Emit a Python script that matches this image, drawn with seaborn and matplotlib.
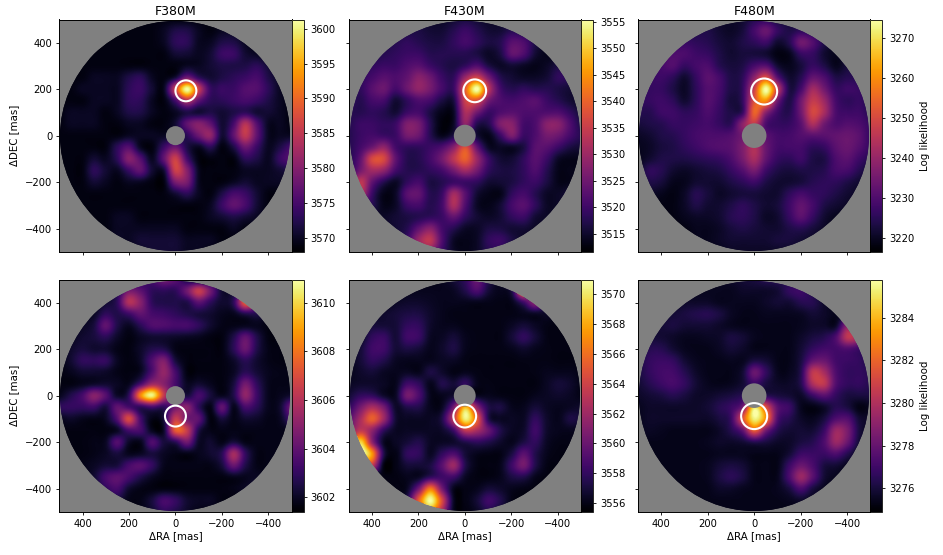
import numpy as np
import matplotlib
matplotlib.use("Agg")
import matplotlib.pyplot as plt
from matplotlib.patches import Circle
import seaborn as sns

sns.set_style("ticks", {"axes.edgecolor": "black", "text.color": "black", "xtick.color": "black",
                        "ytick.color": "black", "axes.labelcolor": "black", "axes.facecolor": "gray"})

# log likelihood above the bottom of each colorbar, 50 mas grid
# rows go DEC +500 -> -500, columns go RA +500 -> -500
F380M_TOP = [
    [1,1,1,1,1,1,1,1,1,1,1,1,1,1,1,1,1,1,1,1,1],
    [1,1,1,1,1,1,1,1,1,2,4,4,2,1,2,2,1,1,1,1,1],
    [1,1,1,1,1,1,1,1,1,2,5,5,2,2,4,4,2,1,1,1,1],
    [1,1,1,1,1,1,1,1,1,1,3,3,2,3,6,6,3,2,1,1,1],
    [1,1,1,1,1,1,1,1,1,1,1,2,2,3,4,4,4,5,3,1,1],
    [1,1,1,2,2,2,4,5,2,1,3,10,5,3,4,5,6,7,4,2,1],
    [1,1,2,2,2,2,5,6,3,2,18,33,18,6,6,6,8,8,5,2,1],
    [1,1,1,2,2,2,5,5,2,1,7,16,9,5,5,6,7,6,4,2,1],
    [1,2,2,2,1,2,4,4,2,1,2,4,3,4,3,4,5,3,3,2,1],
    [1,2,2,2,1,1,2,2,1,1,3,9,12,9,3,7,16,8,2,2,1],
    [1,1,1,1,1,1,2,2,2,2,3,5,10,13,3,9,17,9,2,2,2],
    [1,1,1,1,1,5,8,2,1,6,10,4,2,5,1,4,10,6,2,4,7],
    [1,1,1,3,2,5,12,8,2,9,18,7,1,1,1,1,5,4,2,6,8],
    [1,1,1,5,3,2,6,9,3,3,18,12,2,1,1,1,2,2,2,3,4],
    [1,1,1,3,2,1,2,2,1,1,11,11,2,1,1,2,3,2,2,2,1],
    [1,1,1,1,1,1,1,1,1,1,3,5,2,1,4,7,6,3,1,1,1],
    [1,1,1,1,1,1,1,1,1,1,1,1,1,2,6,9,7,3,1,1,1],
    [1,1,1,1,1,2,2,1,1,1,1,1,1,2,3,4,3,2,1,1,1],
    [1,1,1,1,1,2,2,2,2,2,2,1,1,1,1,2,1,1,1,1,1],
    [1,1,1,1,1,2,2,3,3,3,3,2,2,2,1,1,1,1,1,1,1],
    [1,1,1,1,1,1,1,2,3,3,3,2,2,1,1,1,1,1,1,1,1],
]
F430M_TOP = [
    [4,4,4,4,4,4,4,3,3,4,5,4,3,3,3,3,3,3,3,3,3],
    [4,4,4,4,5,5,5,4,4,6,8,6,4,4,6,5,3,3,3,3,3],
    [4,4,4,5,6,7,6,5,5,7,9,7,5,6,11,10,5,3,3,3,3],
    [5,5,5,6,7,8,8,6,6,6,6,5,3,5,12,10,4,2,2,3,3],
    [6,6,7,8,8,10,11,8,6,5,7,10,5,3,4,3,2,3,5,6,3],
    [7,7,9,11,10,12,16,13,8,7,18,24,14,6,4,3,3,4,7,6,3],
    [7,7,11,13,9,13,17,14,9,8,28,44,22,9,6,7,6,6,5,4,3],
    [7,6,9,9,4,7,10,9,5,5,24,26,14,10,9,10,11,8,6,4,3],
    [6,6,7,6,4,8,9,5,2,3,20,14,8,10,11,10,10,10,10,7,4],
    [6,8,8,7,8,15,14,6,1,3,17,6,6,15,16,9,10,16,16,10,5],
    [6,8,9,8,8,14,13,6,2,5,10,4,2,8,15,8,10,14,13,9,6],
    [6,9,13,17,9,7,7,8,10,16,26,12,3,3,3,5,11,11,8,5,4],
    [6,12,25,25,12,6,6,9,14,22,28,18,8,4,4,7,11,8,3,2,2],
    [6,14,19,17,9,6,6,7,9,14,19,14,7,5,5,7,10,6,2,2,2],
    [8,22,12,6,3,7,9,5,6,8,8,7,4,4,5,7,8,5,2,2,2],
    [8,20,8,2,3,11,12,6,8,19,11,4,2,2,7,9,6,3,3,4,3],
    [5,8,6,2,3,8,9,6,9,20,10,3,2,4,9,11,7,3,3,3,3],
    [3,3,3,3,4,5,6,7,8,12,7,4,3,4,7,8,4,3,3,3,3],
    [3,3,3,3,4,6,12,16,9,6,3,3,5,5,4,4,3,3,3,3,3],
    [3,3,3,3,4,8,18,22,10,3,2,3,7,8,5,3,3,3,3,3,3],
    [3,3,3,3,4,8,14,16,8,3,2,3,6,6,3,3,3,3,3,3,3],
]
F480M_TOP = [
    [5,5,5,5,5,5,5,4,4,5,8,9,6,5,5,6,5,4,4,4,4],
    [5,5,5,5,6,7,7,5,4,6,12,17,10,7,9,8,6,4,4,4,4],
    [6,6,7,9,10,9,8,6,5,7,9,11,5,8,18,14,7,4,4,4,4],
    [7,8,11,13,13,11,10,7,5,6,6,5,2,3,10,10,5,3,5,6,5],
    [8,9,12,14,10,12,13,8,6,7,12,14,5,3,6,10,7,3,6,7,6],
    [9,10,11,9,5,10,15,12,7,9,22,34,14,5,8,16,13,7,8,8,7],
    [9,10,10,7,4,9,14,12,7,10,32,58,30,7,12,25,18,10,11,10,7],
    [9,10,11,9,5,9,14,11,6,10,35,44,18,7,18,30,24,12,9,10,7],
    [8,8,11,11,9,10,13,10,7,10,38,22,11,8,18,33,26,13,11,11,8],
    [6,7,8,10,10,11,12,10,9,22,30,13,10,10,15,27,18,13,14,13,10],
    [4,5,7,8,10,12,13,13,14,18,18,15,12,12,14,15,15,16,17,15,10],
    [3,4,6,7,9,11,13,14,15,20,27,17,12,12,12,9,10,15,17,14,10],
    [3,5,7,7,7,8,9,10,13,19,26,16,10,9,11,7,7,13,15,11,8],
    [4,9,8,5,4,5,6,7,10,14,19,11,7,6,7,7,8,12,12,8,5],
    [4,7,6,3,3,5,5,5,7,9,11,7,5,5,6,8,9,9,7,5,4],
    [3,4,3,2,4,8,6,4,5,6,6,5,5,9,12,10,9,7,5,4,4],
    [3,2,2,2,4,7,5,5,7,9,7,5,6,11,16,12,7,5,4,4,4],
    [3,2,2,2,3,4,4,5,8,9,7,4,5,10,15,10,5,3,3,3,3],
    [3,2,2,2,2,3,3,4,6,7,6,5,5,7,8,6,4,3,3,3,3],
    [3,3,3,2,2,3,3,4,5,5,5,5,6,6,5,4,3,3,3,3,3],
    [3,3,3,3,3,3,3,3,4,4,4,4,4,4,4,3,3,3,3,3,3],
]
F380M_BOT = [
    [.3,.3,.3,.3,.3,.5,.8,1.2,2,3,2.5,1,.6,.5,.5,.5,.5,.5,.5,.5,.5],
    [.3,.3,.3,.3,.5,1.2,3,2.5,1.5,1.5,1.5,3,5,3,.8,.8,1.5,1,.5,.5,.5],
    [.3,.3,.3,.5,.8,1.5,4.5,3.5,1.5,1.2,1.2,1.2,2.5,1.5,.8,1.5,6,3,.5,.5,.5],
    [.3,.3,.5,.6,1.5,1.2,1.8,2.6,2,1.8,1.5,1.2,1,.8,.5,.5,1.2,1.2,.4,.3,.3],
    [.3,.4,.6,1,2.6,1.2,.6,1.4,2.2,2.2,2,2,1.5,.8,.4,.4,.5,.5,.3,.3,.3],
    [.3,.5,.8,1,1.4,.7,.3,.6,.8,.8,.7,.6,.5,.3,.3,1.2,2.6,1.2,.3,.3,.3],
    [.3,.7,1,.8,.8,.4,.3,.7,1.2,1.2,.4,.3,.3,.3,.3,1.4,2.8,1.2,.4,.3,.3],
    [.3,.8,1.5,1.5,1.6,.6,.3,.7,2.2,3.3,1,.3,.3,.3,.3,.7,1.4,.8,.4,.3,.3],
    [.3,.5,.8,.8,.7,.4,.3,.6,2.2,3.8,2,.3,.3,.3,.3,.6,1.4,.9,.5,.4,.4],
    [.3,.3,.5,.7,.8,.6,.5,2,4,3.5,2,.6,.8,.5,.3,1,3,1.5,.5,.4,.4],
    [.5,1.2,2,3.5,2.4,.7,1.5,7,9.2,5,2,1,2,1,.5,1.2,3.7,1.8,.5,.5,.8],
    [1.5,1.6,1.6,1.8,1,2.6,2,1.5,2,1.5,3,3.5,1.5,.4,2.6,.5,2,1.4,.5,.8,3],
    [.5,.7,.5,.4,.6,2.3,5.5,2,.4,1,5,3,2.5,.3,1,.4,.8,.7,.4,.6,2],
    [.3,.3,.3,.3,.3,.6,2,2,.5,.7,6,5,1.2,.4,.4,.4,.4,.4,.4,.4,.4],
    [.3,.3,.3,.4,.6,2.3,.7,.5,2.2,1,1.4,3,.7,.8,.4,1,.4,.4,.4,.4,.4],
    [.3,.3,.3,.4,.6,1,.5,.6,1,.6,.4,.4,.5,.8,1.4,4.2,1.6,.4,.4,.4,.4],
    [.3,.3,.4,.6,.9,1,2,2.4,1.6,.5,.4,.4,.4,.4,1,2.8,1.2,.4,.4,.4,.4],
    [.3,.3,.4,.8,2,2.5,2,1.2,.6,.3,.3,.3,.3,.3,.3,.5,.5,.6,.4,.3,.3],
    [.3,.3,.3,.6,1.5,2,.8,.4,.3,.3,.3,.3,.3,.3,.3,.4,.6,.8,.4,.3,.3],
    [.3,.3,.3,.3,.6,1,.4,.4,1,2,1.6,.8,.6,.6,.3,.3,.3,.3,.3,.3,.3],
    [.3,.3,.3,.3,.4,.4,.3,.4,.8,1.5,1.2,.7,.4,.3,.3,.3,.3,.3,.3,.3,.3],
]
F430M_BOT = [
    [.5,.5,.5,.5,.5,.5,.5,.5,.8,1.5,2.5,4.5,2,.8,2,4,.5,.5,.5,.5,.5],
    [.5,.5,.5,.5,.6,.8,.8,.8,.8,1,2,3.5,1.5,.8,2,10,2,.5,.5,.5,.5],
    [.5,.5,.5,.6,1,1.2,1.2,1,.8,.8,.8,.8,.7,.6,.8,3,5.5,1.5,.5,.5,.5],
    [.5,.5,.8,1.2,1.5,1.8,1.8,1.2,.8,.6,.6,.6,.6,.6,.6,.8,1,1,.5,.5,.5],
    [.5,.8,1.5,1.5,1.5,2.5,2.5,1.2,.8,.8,.6,.6,.6,.6,1,1.5,1,.6,.5,.5,.5],
    [.6,1,2.5,2.8,1.5,3,2.8,1,1,1.5,.8,.6,.6,.6,1.5,2.5,1.5,.6,.5,.5,.5],
    [.8,1.5,3,3,1.5,1.8,1.5,.8,1.2,1.8,.8,.6,.6,.6,.8,1.2,.8,.6,.5,.5,.5],
    [.8,1.5,2.5,2,1,.8,.8,.8,1,1,.6,.5,.5,.5,.5,.6,.6,.6,.5,.5,.5],
    [.8,1.2,1.5,1,.8,1,.8,1.8,1.2,.6,.8,.6,.5,.5,.5,.5,.6,.8,.8,.8,.6],
    [1,1.2,1.2,1,.8,3,2.5,.8,2,1.5,2.5,.8,.6,.5,.5,.5,.5,1,1.5,1.2,.6],
    [1.5,2.5,2.5,1.2,1,5,3.5,.8,.8,1.2,.8,.8,.8,.6,.5,.5,.8,1,1.2,1,.6],
    [2.5,5,7,5,1.2,2,2,.8,1,5,13,6,2,1.8,.8,.8,1.5,1,.8,1,1.2],
    [4,7,10,6.5,1.5,1,1,1,2,8,15,10,2,1,1,1,2.5,1.2,.8,1.8,1.5],
    [5,8,6,2.5,1,1,1,1,1.2,3,8,7,4.5,2,1,1.2,3,1.2,.8,.8,.8],
    [7,14,6,1,1,1.5,2,1,1,1.2,2,2.5,2,1.2,.8,1.8,2.5,1,.6,.6,.6],
    [6,15,12,2,.6,2.5,2.5,1,2.5,3.5,1.5,.8,.6,.6,1.8,4,2,.8,.5,.5,.5],
    [1,8,8,.5,.6,1.5,1.5,1.8,4,6.5,2,.6,.5,.8,3,5,2,.6,.5,.5,.5],
    [.5,.5,.5,.5,.5,.8,1,2.5,3,3,1,.5,.5,.8,1.8,2,.8,.5,.5,.5,.5],
    [.5,.5,.5,.5,.6,1,5,11,5,.8,.6,.8,1.5,1.2,.8,.6,.5,.5,.5,.5,.5],
    [.5,.5,.5,.5,.8,2,10,15.5,9,1,.6,1.5,3,2,.6,.5,.5,.5,.5,.5,.5],
    [.5,.5,.5,.5,.8,1.5,7,12,7,.8,.5,1,2,1.2,.5,.5,.5,.5,.5,.5,.5],
]
F480M_BOT = [
    [.5,.5,.5,.5,.5,.5,.5,.6,.8,1,1.2,1.5,1.5,1.2,1.2,.8,.5,.5,.5,.5,.5],
    [.5,.5,.5,.5,.6,.6,.6,.6,.6,.8,.8,.8,1,1.8,2,1.3,.6,.5,.5,.5,.5],
    [.5,.5,.5,.6,.8,.8,.8,.6,.6,.6,.6,.8,1,1,1.5,1.5,.8,.5,.5,.5,.5],
    [.5,.5,.8,1,1.2,1.4,1.5,1.2,.7,.5,.5,.6,.6,.6,.7,1,.8,.5,.5,.8,.8],
    [.6,.8,1,1.2,1,1,1,.8,.6,.5,.5,.5,.5,.5,.6,.8,.8,.8,4,3,1],
    [.8,1,1,.8,.6,.6,.7,.8,1.2,1,.6,.5,.5,.5,.8,1.2,1.5,2.5,5.5,4.5,1.2],
    [1,1.5,1.5,1,.6,.5,.5,.7,1,.8,.5,.5,.5,.5,1,1.8,2.2,2.2,2.5,2,1.2],
    [1.2,1.8,2,1.8,1,.6,.5,.5,.6,.6,1.2,1,.5,.5,1.2,3,3.2,2.2,2,1.8,1.2],
    [1.2,1.8,2.2,2.2,1.5,.8,.5,.5,.5,1,3.2,1.8,.6,.6,1.5,5.5,4.8,2.5,1.8,1.8,1.5],
    [1,1.5,2,2.3,1.8,1,.6,.5,.6,1,2,1.2,.8,.8,1.5,5,5.5,2.6,1.8,1.8,1.5],
    [.8,1,1.2,1.5,1.2,.8,.8,1,1.2,1.5,1.5,1.5,1.2,1,.8,2,2.8,1.8,1.2,1.2,1.2],
    [.6,.8,.8,.8,.8,.8,1,1.5,2,3.5,10,6.5,2.8,2,.6,.4,.8,1.5,1.2,.4,.6],
    [.6,.8,.8,.8,.8,.8,.8,1.2,2,6.5,10.5,8,2.5,1.5,.8,.6,1.2,2.5,2.6,1,.8],
    [.6,.7,.6,.5,.5,.5,.5,.8,1.5,3,7,3.5,1.5,1,1,1,2,4.5,3.6,1.2,.6],
    [.5,.5,.5,.5,.5,.5,.6,.8,.8,1,1.5,1.2,.8,.8,1.2,1.5,2.5,4.5,3.2,1,.5],
    [.5,.5,.5,.5,.5,.5,.5,.6,.6,.6,.5,.5,.5,1,2,2,2,2.5,1.5,.6,.5],
    [.5,.5,.5,.5,.5,.5,.6,1,1.2,1,.5,.5,.5,2,3.2,2.4,1.2,1,.6,.5,.5],
    [.5,.5,.5,.5,.5,.5,.6,1.2,1.6,1.2,.5,.5,.6,2.4,4.5,2.8,1,.6,.5,.5,.5],
    [.5,.5,.5,.5,.5,.5,.5,.8,.8,.6,.5,.5,.6,1.2,2.4,1.2,.6,.5,.5,.5,.5],
    [.5,.5,.5,.5,.5,.5,.5,.5,.5,.5,.5,.5,.5,.6,.8,.6,.5,.5,.5,.5,.5],
    [.5,.5,.5,.5,.5,.5,.5,.5,.5,.5,.5,.5,.5,.5,.5,.5,.5,.5,.5,.5,.5],
]

filters = ["F380M", "F430M", "F480M"]
grids = [[F380M_TOP, F430M_TOP, F480M_TOP], [F380M_BOT, F430M_BOT, F480M_BOT]]
vmins = [[3568.05, 3511.6, 3216.6], [3601.4, 3555.4, 3274.9]]
vmaxs = [[3601.3, 3555.4, 3274.7], [3610.95, 3571.0, 3285.8]]
cbar_ticks = [
    [[3570, 3575, 3580, 3585, 3590, 3595, 3600],
     [3515, 3520, 3525, 3530, 3535, 3540, 3545, 3550, 3555],
     [3220, 3230, 3240, 3250, 3260, 3270]],
    [[3602, 3604, 3606, 3608, 3610],
     [3556, 3558, 3560, 3562, 3564, 3566, 3568, 3570],
     [3276, 3278, 3280, 3282, 3284]],
]
# companion position per row (RA, DEC) and ring / mask radius per filter, in mas
companion = [[(-45, 193), (-43, 193), (-43, 190)], [(0, -88), (0, -88), (0, -88)]]
ring_radius = [45, 49, 56]
mask_radius = [41, 47, 53]
tick_mas = [400, 200, 0, -200, -400]
tick_text = ["400", "200", "0", "\u2212200", "\u2212400"]

W, H = 943, 555
left_px = [59.3, 348.6, 638.0]
top_px = [19.5, 279.5]
size_px = 232.3


def to_cell(mas):
    # mas -> heatmap cell coordinate (node i sits at the middle of cell i)
    return (500 - mas) / 50 + 0.5


fig = plt.figure(figsize=(W / 100, H / 100), dpi=100)
for r in range(2):
    for c in range(3):
        ax = fig.add_axes([left_px[c] / W, 1 - (top_px[r] + size_px) / H, size_px / W, size_px / H])
        cax = fig.add_axes([(left_px[c] + size_px) / W, 1 - (top_px[r] + size_px) / H, 12 / W, size_px / H])
        data = vmins[r][c] + np.array(grids[r][c], dtype=float)
        sns.heatmap(data, ax=ax, cbar_ax=cax, cmap="inferno", vmin=vmins[r][c], vmax=vmaxs[r][c],
                    xticklabels=False, yticklabels=False, cbar_kws={"ticks": cbar_ticks[r][c]})
        mesh = ax.collections[0]
        # the original map is smooth, so redraw the same cells with catrom shading (goes through the values)
        smooth = ax.imshow(data, cmap=mesh.cmap, norm=mesh.norm, interpolation="catrom",
                           interpolation_stage="data", extent=(0, 21, 21, 0), aspect="auto", zorder=2)
        disc = (to_cell(0), to_cell(0))
        mesh.set_clip_path(Circle(disc, 495 / 50, transform=ax.transData))
        smooth.set_clip_path(Circle(disc, 495 / 50, transform=ax.transData))
        ax.set_xlim(to_cell(500), to_cell(-500))
        ax.set_ylim(to_cell(-500), to_cell(500))
        for s in ax.spines.values():
            s.set_visible(True)
            s.set_linewidth(0.7)

        ax.add_patch(Circle(disc, mask_radius[c] / 50, fc="gray", ec="none", zorder=3))
        ra, dec = companion[r][c]
        ax.add_patch(Circle((to_cell(ra), to_cell(dec)), ring_radius[c] / 50, fill=False,
                            ec="white", lw=1.5, zorder=4))

        ax.set_xticks([to_cell(t) for t in tick_mas])
        ax.set_yticks([to_cell(t) for t in tick_mas])
        ax.set_xticklabels(tick_text if r == 1 else [])
        ax.set_yticklabels(tick_text if c == 0 else [])
        ax.tick_params(labelsize=7.2, length=2.5, width=0.6, pad=2.5)
        if r == 0:
            ax.set_title(filters[c], fontsize=9, pad=3.5)
        if r == 1:
            ax.set_xlabel("\u0394RA [mas]", fontsize=7.4, labelpad=2)
        if c == 0:
            ax.set_ylabel("\u0394DEC [mas]", fontsize=7.4, labelpad=4)

        cb = mesh.colorbar
        cb.outline.set_linewidth(0.6)
        cb.outline.set_edgecolor("black")
        cb.ax.tick_params(labelsize=7.2, length=2.5, width=0.6, pad=2.5)
        if c == 2:
            cb.set_label("Log likelihood", fontsize=7.4, labelpad=4)

fig.savefig("out.png", dpi=100)
